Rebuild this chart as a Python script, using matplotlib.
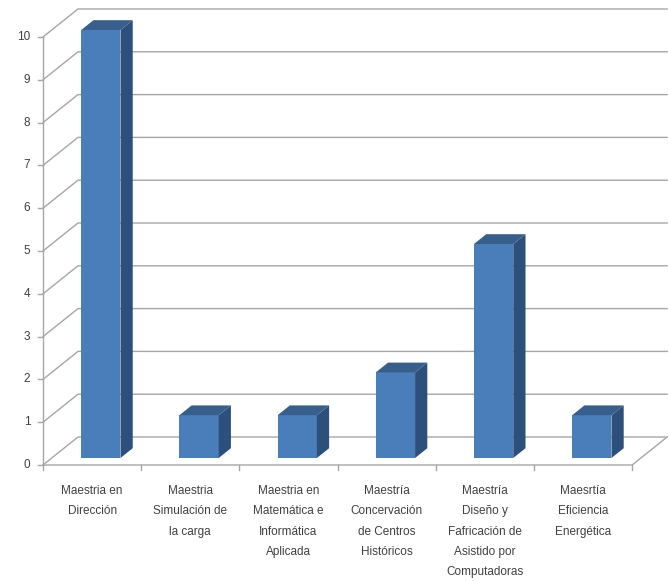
import matplotlib
matplotlib.use("Agg")
import matplotlib.pyplot as plt
from matplotlib.patches import Polygon

categories = [
    "Maestria en\nDirección",
    "Maestria\nSimulación de\nla carga",
    "Maestria en\nMatemática e\nInformática\nAplicada",
    "Maestría\nConcervación\nde Centros\nHistóricos",
    "Maestría\nDiseño y\nFafricación de\nAsistido por\nComputadoras",
    "Maesrtía\nEficiencia\nEnergética",
]
values = [10, 1, 1, 2, 5, 1]
y_ticks = list(range(0, 11))

# 3d look: depth offset of back wall (data units)
DX, DY = 0.356, 0.654
F0, F1 = 0.25, 0.6   # bar depth range (fraction of full depth)
BAR_W = 0.4

front_col = "#4a7ebb"
side_col = "#2c4f7c"
top_col = "#385e8c"
grid_col = "#a6a6a6"

fig = plt.figure(figsize=(6.69, 5.81), dpi=100)
ax = fig.add_axes([0, 0, 1, 1])
ax.set_xlim(-0.938, 5.875)
ax.set_ylim(-2.710, 10.864)
ax.axis("off")

n = len(categories)
x_left, x_right = -0.5, n - 0.5

# gridlines: diagonal on the side + along back wall
for v in y_ticks:
    ax.plot([x_left, x_left + DX, x_right + DX], [v, v + DY, v + DY],
            color=grid_col, lw=1, zorder=1)
    ax.plot([x_left - 0.05, x_left], [v, v], color=grid_col, lw=1, zorder=1)
    ax.text(x_left - 0.13, v, str(v), ha="right", va="center",
            fontsize=8.5, color="#404040", family="Liberation Sans")

# front axis line, floor edges
ax.plot([x_left, x_left], [0, y_ticks[-1]], color=grid_col, lw=1, zorder=1)
ax.plot([x_left, x_right, x_right + DX], [0, 0, DY], color=grid_col, lw=1, zorder=1)
for k in range(n + 1):
    ax.plot([x_left + k, x_left + k], [0, -0.12], color=grid_col, lw=1, zorder=1)

# bars
for i, v in enumerate(values):
    x0 = i - BAR_W / 2 + F0 * DX
    x1 = i + BAR_W / 2 + F0 * DX
    y0 = F0 * DY
    ddx, ddy = (F1 - F0) * DX, (F1 - F0) * DY
    front = Polygon([(x0, y0), (x1, y0), (x1, y0 + v), (x0, y0 + v)],
                    closed=True, fc=front_col, ec="none", zorder=3)
    side = Polygon([(x1, y0), (x1 + ddx, y0 + ddy), (x1 + ddx, y0 + v + ddy), (x1, y0 + v)],
                   closed=True, fc=side_col, ec="none", zorder=3)
    top = Polygon([(x0, y0 + v), (x1, y0 + v), (x1 + ddx, y0 + v + ddy), (x0 + ddx, y0 + v + ddy)],
                  closed=True, fc=top_col, ec="none", zorder=3)
    for p in (front, side, top):
        ax.add_patch(p)
    ax.text(i, -0.47, categories[i], ha="center", va="top", fontsize=8.5,
            color="#404040", family="Liberation Sans", linespacing=1.92)

fig.savefig("out.png", dpi=100)
